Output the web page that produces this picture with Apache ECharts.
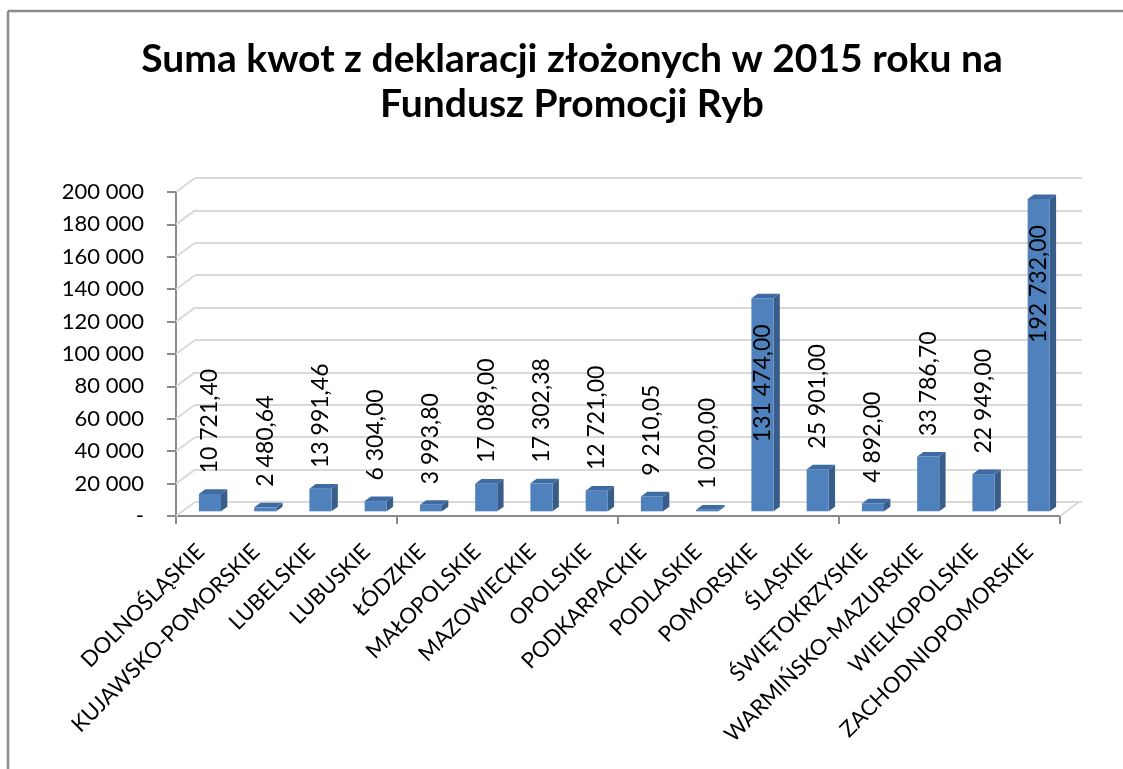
<!DOCTYPE html>
<html>
<head>
<meta charset="utf-8">
<title>Fundusz Promocji Ryb 2015</title>
<script src="https://cdn.jsdelivr.net/npm/echarts@6/dist/echarts.min.js"></script>
<style>
    html, body { margin: 0; padding: 0; background: #fff; overflow: hidden; }
    #chart { width: 1123px; height: 769px; }
</style>
</head>
<body>
<div id="chart"></div>
<script>
// dane z wykresu
const regions = ['DOLNOŚLĄSKIE', 'KUJAWSKO-POMORSKIE', 'LUBELSKIE', 'LUBUSKIE', 'ŁÓDZKIE', 'MAŁOPOLSKIE',
    'MAZOWIECKIE', 'OPOLSKIE', 'PODKARPACKIE', 'PODLASKIE', 'POMORSKIE', 'ŚLĄSKIE', 'ŚWIĘTOKRZYSKIE',
    'WARMIŃSKO-MAZURSKIE', 'WIELKOPOLSKIE', 'ZACHODNIOPOMORSKIE'];
const amounts = [10721.40, 2480.64, 13991.46, 6304.00, 3993.80, 17089.00, 17302.38, 12721.00, 9210.05,
    1020.00, 131474.00, 25901.00, 4892.00, 33786.70, 22949.00, 192732.00];
const yTicks = [0, 20000, 40000, 60000, 80000, 100000, 120000, 140000, 160000, 180000, 200000];

const titleText = 'Suma kwot z deklaracji złożonych w 2015 roku na\nFundusz Promocji Ryb';
const FONT = 'Lato';
const DEPTH_X = 19, DEPTH_Y = -14; // glebokosc "3D"
const GRID_COLOR = '#d9d9d9';
const AXIS_COLOR = '#8a8a8a';
const LABEL_FONT = '23px ' + FONT;

const chart = echarts.init(document.getElementById('chart'));

// 10 721,40
function fmtPL(v, dec) {
    let parts = v.toFixed(dec).split('.');
    let int = parts[0].replace(/\B(?=(\d{3})+(?!\d))/g, ' ');
    return parts.length > 1 ? int + ',' + parts[1] : int;
}

let measureCtx = document.createElement('canvas').getContext('2d');
measureCtx.font = LABEL_FONT;

// scianka boczna i podloga
function renderWalls(params, api) {
    let v = api.value(0);
    let p = api.coord([0, v]);
    let band = api.size([1, 0])[0];
    let x0 = p[0] - band / 2;
    let children = [{
        type: 'line',
        shape: {x1: x0, y1: p[1], x2: x0 + DEPTH_X, y2: p[1] + DEPTH_Y},
        style: {stroke: GRID_COLOR, lineWidth: 2}
    }];
    if (v === 0) {
        let x1 = api.coord([regions.length - 1, 0])[0] + band / 2;
        children.push({
            type: 'line',
            shape: {x1: x1, y1: p[1], x2: x1 + DEPTH_X, y2: p[1] + DEPTH_Y},
            style: {stroke: GRID_COLOR, lineWidth: 2}
        });
    }
    return {type: 'group', children: children};
}

// slupek 3D + etykieta
function renderBar(params, api) {
    let idx = api.value(0), v = api.value(1);
    let top = api.coord([idx, v]);
    let base = api.coord([idx, 0]);
    let band = api.size([1, 0])[0];
    let w = band * 0.4;
    let dx = DEPTH_X / 3, dy = DEPTH_Y / 3;
    let xl = top[0] - w / 2 + dx, xr = xl + w;
    let yt = top[1] + dy, yb = base[1] + dy;

    let text = fmtPL(v, 2);
    let len = measureCtx.measureText(text).width;
    let lx = xl + w / 2;
    let ly = yt + dy - 16, align = 'left';
    if (ly - len < params.coordSys.y - 10) {
        ly = yt + 26;
        align = 'right';
    }

    return {
        type: 'group',
        children: [
            {
                type: 'polygon',
                shape: {points: [[xr, yt], [xr + dx, yt + dy], [xr + dx, yb + dy], [xr, yb]]},
                style: {fill: '#385d8a'}
            },
            {
                type: 'polygon',
                shape: {points: [[xl, yt], [xl + dx, yt + dy], [xr + dx, yt + dy], [xr, yt]]},
                style: {fill: '#3f6ba3'}
            },
            {
                type: 'rect',
                shape: {x: xl, y: yt, width: w, height: Math.max(yb - yt, 0.5)},
                style: {fill: '#4f81bd'}
            },
            {
                type: 'text',
                x: lx,
                y: ly,
                rotation: Math.PI / 2,
                style: {
                    text: text,
                    fill: '#000',
                    font: LABEL_FONT,
                    align: align,
                    verticalAlign: 'middle'
                }
            }
        ]
    };
}

const option = {
    backgroundColor: '#fff',
    animation: false,
    graphic: [
        // ramka wykresu (lewa i gorna krawedz)
        {
            type: 'line',
            shape: {x1: 8, y1: 11, x2: 1123, y2: 11},
            style: {stroke: '#8c8c8c', lineWidth: 2.5},
            silent: true
        },
        {
            type: 'line',
            shape: {x1: 8, y1: 11, x2: 8, y2: 769},
            style: {stroke: '#8c8c8c', lineWidth: 2.5},
            silent: true
        },
        {
            type: 'text',
            x: 572,
            y: 37,
            style: {
                text: titleText,
                font: 'bold 39px ' + FONT,
                fill: '#000',
                align: 'center',
                verticalAlign: 'top',
                lineHeight: 45
            }
        }
    ],
    grid: [
        {left: 176, right: 63, top: 192, bottom: 253},       // przod
        {left: 195, right: 41, top: 178, bottom: 267},       // tylna sciana
        {left: 173, right: 66, top: 192, bottom: 253}        // etykiety osi X
    ],
    xAxis: [
        {
            type: 'category', gridIndex: 0, data: regions,
            axisLine: {lineStyle: {color: AXIS_COLOR, width: 2}},
            axisTick: {show: true, length: 8, lineStyle: {color: AXIS_COLOR, width: 2}},
            axisLabel: {show: false}
        },
        {type: 'category', gridIndex: 1, data: regions, show: false},
        {
            type: 'category', gridIndex: 2, data: regions,
            axisLine: {show: false},
            axisTick: {show: false},
            axisLabel: {
                interval: 0,
                rotate: 45,
                margin: 32,
                color: '#000',
                fontFamily: FONT,
                fontSize: 22
            }
        }
    ],
    yAxis: [
        {
            type: 'value', gridIndex: 0, min: 0, max: 200000, interval: 20000,
            axisLine: {show: true, lineStyle: {color: AXIS_COLOR, width: 2}},
            axisTick: {show: true, length: 9, lineStyle: {color: AXIS_COLOR, width: 2}},
            splitLine: {show: false},
            axisLabel: {
                margin: 32,
                color: '#000',
                fontFamily: FONT,
                fontSize: 22,
                formatter: function (v) {
                    return v === 0 ? '-' : fmtPL(v, 0);
                }
            }
        },
        {
            type: 'value', gridIndex: 1, min: 0, max: 200000, interval: 20000,
            axisLine: {show: false},
            axisTick: {show: false},
            axisLabel: {show: false},
            splitLine: {show: true, lineStyle: {color: GRID_COLOR, width: 2}}
        },
        {type: 'value', gridIndex: 2, min: 0, max: 200000, show: false}
    ],
    series: [
        {
            type: 'custom',
            xAxisIndex: 0,
            yAxisIndex: 0,
            z: 1,
            renderItem: renderWalls,
            data: yTicks.map(function (v) {
                return [v];
            })
        },
        {
            type: 'custom',
            xAxisIndex: 0,
            yAxisIndex: 0,
            z: 5,
            renderItem: renderBar,
            data: amounts.map(function (v, i) {
                return [i, v];
            })
        }
    ]
};

chart.setOption(option);
</script>
</body>
</html>
